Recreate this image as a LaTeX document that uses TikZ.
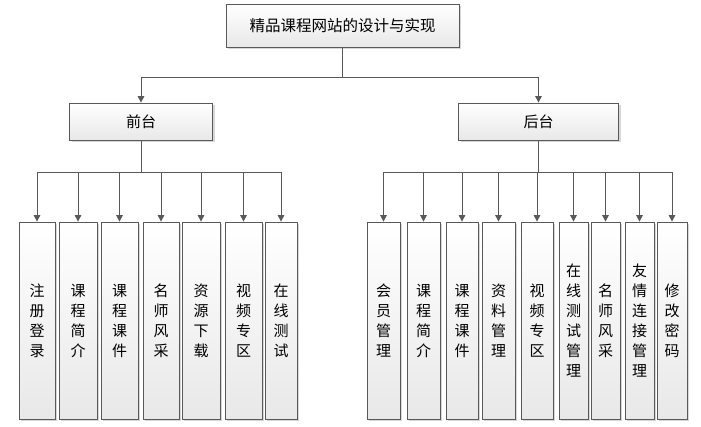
\documentclass[tikz,border=0pt]{standalone}
\usepackage{fontspec}
\newfontfamily\cjk{Noto Sans CJK SC}
\usetikzlibrary{arrows.meta,shadows}

\tikzset{
	box/.style={draw=gray!70!black, line width=0.8pt, top color=white, bottom color=gray!18,
		drop shadow={shadow xshift=2pt, shadow yshift=-2pt, fill=gray!45, opacity=0.7},
		inner sep=0pt, font=\cjk\fontsize{15}{20}\selectfont, align=center},
	arr/.style={draw=black!65, line width=1pt, -{Triangle[width=6.5pt,length=6.5pt]}}
}

\begin{document}
\begin{tikzpicture}[x=1pt, y=-1pt]
		\useasboundingbox (0,0) rectangle (701,426);
		
		\node[box, minimum width=233pt, minimum height=43pt, font=\cjk\fontsize{15.5}{18}\selectfont] (top) at (342.5,25.5) {精品课程网站的设计与实现};
		\node[box, minimum width=143pt, minimum height=37pt] (front) at (141,121.5) {前台};
		\node[box, minimum width=160pt, minimum height=37pt] (back) at (538.5,121.5) {后台};
		
		\draw[arr] (top.south) -- ++(0,30) -| (front.north);
		\draw[arr] (top.south) -- ++(0,30) -| (back.north);
		
		% front side
		\foreach \i/\x/\w/\t in {1/37/36/注\\册\\登\\录, 2/78/38/课\\程\\简\\介, 3/119.5/37/课\\程\\课\\件,
			4/161/36/名\\师\\风\\采, 5/201/38/资\\源\\下\\载, 6/243.5/37/视\\频\\专\\区, 7/281/32/在\\线\\测\\试}
		{
			\node[box, minimum width=\w pt, minimum height=197pt] (l\i) at (\x,320.5) {\t};
			\draw[arr] (front.south) -- ++(0,32) -| (l\i.north);
		}
		
		% back side
		\foreach \i/\x/\w/\t in {1/383.5/33/会\\员\\管\\理, 2/423.5/33/课\\程\\简\\介, 3/462/32/课\\程\\课\\件,
			4/498.5/33/资\\料\\管\\理, 5/537/32/视\\频\\专\\区, 6/573.5/29/在\\线\\测\\试\\管\\理,
			7/605.5/29/名\\师\\风\\采, 8/639.5/29/友\\情\\连\\接\\管\\理, 9/672/30/修\\改\\密\\码}
		{
			\node[box, minimum width=\w pt, minimum height=197pt] (r\i) at (\x,320.5) {\t};
			\draw[arr] (back.south) -- ++(0,32) -| (r\i.north);
		}
	\end{tikzpicture}
\end{document}
